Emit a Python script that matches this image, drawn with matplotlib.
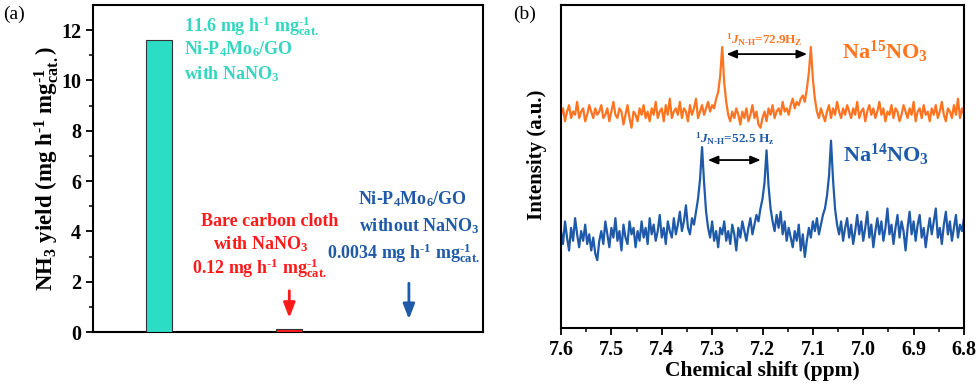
import numpy as np
import matplotlib
matplotlib.use("Agg")
import matplotlib.pyplot as plt

plt.rcParams['font.family'] = ['Liberation Serif', 'DejaVu Serif']
plt.rcParams['font.weight'] = 'bold'
plt.rcParams['axes.unicode_minus'] = False
plt.rcParams['mathtext.fontset'] = 'custom'
plt.rcParams['mathtext.rm'] = 'Liberation Serif:bold'
plt.rcParams['mathtext.it'] = 'Liberation Serif:italic:bold'
plt.rcParams['mathtext.bf'] = 'Liberation Serif:bold'

# ---------------- Panel (a) data ----------------
categories = ["Ni-P4Mo6/GO with NaNO3", "Bare carbon cloth with NaNO3", "Ni-P4Mo6/GO without NaNO3"]
yields = [11.6, 0.12, 0.0034]
bar_colors = ["#2BDDC4", "#FF1A1A", "#1F5AA8"]
yticks_a = [0, 2, 4, 6, 8, 10, 12]

# ---------------- Panel (b) data ----------------
ppm = np.round(np.linspace(7.6, 6.8, 201), 4)
intensity_15N = [
    66, 68, 64, 67, 69, 65, 67, 66, 70, 65, 67, 68, 64, 66, 69, 67, 65, 68, 66, 67,
    69, 65, 66, 68, 64, 67, 70, 66, 65, 68, 67, 63, 66, 69, 65, 62, 67, 66, 64, 68,
    66, 69, 65, 67, 64, 68, 66, 70, 65, 67, 68, 64, 69, 66, 71, 65, 67, 68, 66, 70,
    65, 68, 67, 64, 69, 66, 68, 71, 65, 67, 69, 66, 68, 70, 67, 69, 68, 71, 73, 78,
    87,
    76, 70, 66, 64, 67, 65, 68, 66, 63, 67, 65, 68, 64, 66, 69, 65, 67, 63, 62,
    65, 67, 64, 68, 66, 69, 65, 67, 68, 66, 70, 67, 68, 66, 69, 71, 68, 70, 69, 71,
    72, 70, 74, 79,
    87,
    77, 71, 67, 65, 68, 66, 64, 67, 69, 65, 68, 66, 70, 67, 65, 68, 66, 69, 67, 65, 68,
    66, 70, 65, 67, 68, 64, 67, 69, 66, 68, 65, 67, 70, 66, 68, 64, 67, 66, 69, 65,
    68, 67, 64, 66, 69, 67, 65, 68, 66, 70, 64, 67, 68, 65, 69, 66, 67, 64, 68, 66,
    69, 65, 67, 70, 66, 64, 68, 67, 65, 69, 66, 71, 65, 68, 66,
]
intensity_14N = [
    30, 26, 33, 28, 24, 31, 27, 34, 29, 25, 30, 27, 32, 26, 29, 24, 28, 23, 21, 27,
    30, 26, 33, 29, 25, 31, 28, 34, 27, 30, 24, 32, 28, 26, 33, 29, 31, 25, 30, 27,
    33, 28, 31, 26, 34, 29, 32, 27, 30, 35, 28, 31, 26, 33, 30, 28, 34, 29, 32, 36,
    30, 33, 38, 31, 29, 34, 32, 36, 40, 46,
    56,
    45, 36, 31, 28, 33, 27, 30, 25, 31, 29, 33, 27, 30, 26, 32, 29, 24, 31, 28, 33,
    30, 27, 31, 34, 29, 32, 35, 33, 37, 40, 45,
    55,
    44, 37, 33, 30, 35, 31, 36, 29, 33, 27, 31, 28, 25, 30, 27, 32, 24, 29, 22, 27,
    31, 28, 33, 30, 34, 29, 32, 35, 37, 41, 47,
    58,
    46, 37, 32, 29, 33, 27, 31, 34, 28, 32, 26, 30, 35, 29, 33, 27, 31, 36, 28, 32,
    25, 30, 34, 29, 33, 27, 31, 37, 29, 32, 26, 31, 35, 28, 33, 30, 24, 31, 36, 29,
    33, 27, 32, 35, 28, 31, 25, 30, 34, 29, 33, 37, 28, 31, 26, 32, 36, 29, 33, 27,
    31, 35, 28, 32, 30, 34,
]
xticks_b = [7.6, 7.5, 7.4, 7.3, 7.2, 7.1, 7.0, 6.9, 6.8]
coupling_15N = (7.277, 7.106)
coupling_14N = (7.314, 7.198)

ORANGE = "#FF7420"
BLUE = "#1F5AA8"
CYAN = "#33D6BF"
RED = "#FF1A1A"

fig = plt.figure(figsize=(9.79, 3.9), dpi=100)
W, H = 979, 390

def add_ax(l, t, r, b):
    return fig.add_axes([l / W, 1 - b / H, (r - l) / W, (b - t) / H])

INV = r'$^{\text{-}1}$'
INVCAT = r'$^{\text{-}1}_{\rm cat.}$'

# ---------------- Panel (a) ----------------
ax1 = add_ax(93, 5, 483, 332)
xpos = [1, 2, 3]
ax1.bar(xpos, yields, width=0.2, color=bar_colors, edgecolor="#333333", linewidth=0.8, zorder=3)
ax1.set_xlim(0.49, 3.49)
ax1.set_ylim(0, 13)
ax1.set_xticks([])
ax1.set_yticks(yticks_a)
ax1.set_yticks([1, 3, 5, 7, 9, 11], minor=True)
ax1.tick_params(axis='y', which='major', direction='out', length=5, width=1.3, labelsize=14.5)
ax1.tick_params(axis='y', which='minor', direction='out', length=3, width=1.1)
for s in ax1.spines.values():
    s.set_linewidth(1.5)
ax1.set_ylabel('NH$_3$ yield (mg h' + INV + ' mg' + INVCAT + ')', fontsize=16.5, fontweight='bold')
ax1.yaxis.set_label_coords(-0.083, 0.5)

fs = 13
ax1.text(1.19, 12.15, '11.6 mg h' + INV + ' mg' + INVCAT, color=CYAN, fontsize=fs, ha='left', va='center')
ax1.text(1.19, 11.25, r'Ni-P$_4$Mo$_6$/GO', color=CYAN, fontsize=fs, ha='left', va='center')
ax1.text(1.19, 10.25, r'with NaNO$_3$', color=CYAN, fontsize=fs, ha='left', va='center')

ax1.text(1.85, 4.38, 'Bare carbon cloth', color=RED, fontsize=fs, ha='center', va='center')
ax1.text(1.78, 3.5, r'with NaNO$_3$', color=RED, fontsize=fs, ha='center', va='center')
ax1.text(1.77, 2.55, '0.12 mg h' + INV + ' mg' + INVCAT, color=RED, fontsize=fs, ha='center', va='center')

ax1.text(2.95, 5.3, r'Ni-P$_4$Mo$_6$/GO', color=BLUE, fontsize=fs, ha='center', va='center')
ax1.text(3.0, 4.22, r'without NaNO$_3$', color=BLUE, fontsize=fs, ha='center', va='center')
ax1.text(2.88, 3.12, '0.0034 mg h' + INV + ' mg' + INVCAT, color=BLUE, fontsize=fs, ha='center', va='center')

ax1.annotate('', xy=(2, 0.45), xytext=(2, 1.75),
             arrowprops=dict(arrowstyle='-|>,head_length=0.9,head_width=0.35', color=RED, lw=2))
ax1.annotate('', xy=(2.92, 0.4), xytext=(2.92, 2.05),
             arrowprops=dict(arrowstyle='-|>,head_length=0.9,head_width=0.35', color=BLUE, lw=2))

fig.text(3 / W, 1 - 14 / H, '(a)', fontsize=14, fontweight='normal', ha='left', va='center')

# ---------------- Panel (b) ----------------
ax2 = add_ax(561, 5, 964, 328)
ax2.plot(ppm, intensity_15N, color=ORANGE, lw=1.6)
ax2.plot(ppm, intensity_14N, color=BLUE, lw=1.6)
ax2.set_xlim(7.6, 6.8)
ax2.set_ylim(0, 100)
ax2.set_yticks([])
ax2.set_xticks(xticks_b)
ax2.set_xticks(np.round(np.arange(7.55, 6.8, -0.1), 2), minor=True)
ax2.tick_params(axis='x', which='major', direction='out', length=5, width=1.3, labelsize=14.5)
ax2.tick_params(axis='x', which='minor', direction='out', length=3, width=1.1)
for s in ax2.spines.values():
    s.set_linewidth(1.5)
ax2.set_xlabel('Chemical shift (ppm)', fontsize=15.5, fontweight='bold', labelpad=1)
ax2.set_ylabel('Intensity (a.u.)', fontsize=15, fontweight='bold')
ax2.yaxis.set_label_coords(-0.034, 0.536)

ax2.annotate('', xy=(coupling_15N[1], 84.8), xytext=(coupling_15N[0], 84.8),
             arrowprops=dict(arrowstyle='<|-|>,head_length=0.6,head_width=0.25', color='black', lw=1.3))
ax2.annotate('', xy=(coupling_14N[1], 52), xytext=(coupling_14N[0], 52),
             arrowprops=dict(arrowstyle='<|-|>,head_length=0.6,head_width=0.25', color='black', lw=1.3))
ax2.text(7.197, 89.2, r'$^1$$\mathit{J}_{\rm N\text{-}H}$=72.9H$_{\rm Z}$', color=ORANGE, fontsize=9.5, ha='center', va='center')
ax2.text(7.255, 58.5, r'$^1$$\mathit{J}_{\rm N\text{-}H}$=52.5 H$_{\rm z}$', color=BLUE, fontsize=9.5, ha='center', va='center')
ax2.text(6.957, 85.5, r'Na$^{15}$NO$_3$', color=ORANGE, fontsize=16, ha='center', va='center')
ax2.text(6.955, 53.5, r'Na$^{14}$NO$_3$', color=BLUE, fontsize=16, ha='center', va='center')

fig.text(513 / W, 1 - 14 / H, '(b)', fontsize=14, fontweight='normal', ha='left', va='center')

fig.savefig('out.png', dpi=100)
